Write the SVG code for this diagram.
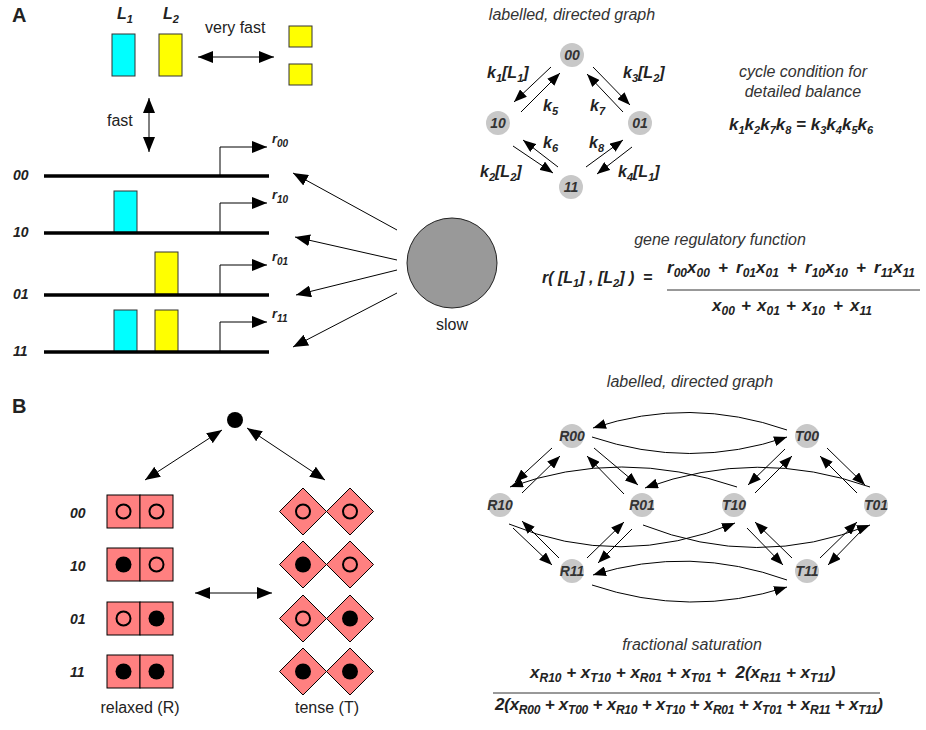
<svg xmlns="http://www.w3.org/2000/svg" width="926" height="730" viewBox="0 0 926 730">
  <defs>
    <style>
      text { font-family: 'Liberation Sans', Arial, Helvetica, sans-serif; }
      .plain { font-size: 16px; fill: #222; }
      .cap { font-size: 16px; font-style: italic; fill: #333; }
      .math { font-size: 16px; font-style: italic; font-weight: bold; fill: #222; }
      .fx { font-size: 17px; }
      .fx .s { font-size: 12px; }
      .row { font-size: 14px; font-style: italic; font-weight: bold; fill: #222; }
      .panel { font-size: 20px; font-weight: bold; fill: #222; }
      .s { font-size: 11px; }
      .node circle { fill: #c8c8c8; }
      .node text { font-size: 14px; font-style: italic; font-weight: bold; fill: #333; text-anchor: middle; }
      .edge { stroke: #000; stroke-width: 1; fill: none; }
      .big { marker-end: url(#hL); }
      .both { marker-start: url(#hL); marker-end: url(#hL); }
      .g { marker-end: url(#hS); }
      .dna { stroke: #000; stroke-width: 3.5; }
      .cyan { fill: #00ffff; stroke: #333; stroke-width: 1; }
      .yel { fill: #ffff00; stroke: #333; stroke-width: 1; }
      .sub-unit { fill: #ff8080; stroke: #000; stroke-width: 1; }
      .open { fill: none; stroke: #000; stroke-width: 2; }
      .full { fill: #000; }
      .bar { stroke: #333; stroke-width: 1; }
    </style>
    <marker id="hL" markerUnits="userSpaceOnUse" markerWidth="16" markerHeight="12" refX="15" refY="6" orient="auto-start-reverse">
      <path d="M0,0 L15,6 L0,12 z" fill="#000"/>
    </marker>
    <marker id="hS" markerUnits="userSpaceOnUse" markerWidth="14" markerHeight="10" refX="13" refY="5" orient="auto">
      <path d="M0,0 L13,5 L0,10 z" fill="#000"/>
    </marker>
  </defs>

  <rect width="926" height="730" fill="#fff"/>

  <!-- Panel A -->
  <text class="panel" x="12" y="22">A</text>

  <g id="ligand-L1">
    <text class="math" x="117" y="19">L<tspan class="s" dy="4">1</tspan></text>
    <rect class="cyan" x="112" y="34" width="23" height="42"/>
  </g>
  <g id="ligand-L2">
    <text class="math" x="163" y="19">L<tspan class="s" dy="4">2</tspan></text>
    <rect class="yel" x="159" y="34" width="23" height="42"/>
  </g>
  <g id="ligand-pair">
    <rect class="yel" x="289" y="26" width="23" height="21"/>
    <rect class="yel" x="289" y="64" width="23" height="21"/>
  </g>
  <text class="plain" x="205" y="33">very fast</text>
  <text class="plain" x="107" y="126">fast</text>

  <g id="gene-00">
    <text class="row" x="13" y="180">00</text>
    <line class="dna" x1="44" y1="176" x2="269" y2="176"/>
  </g>
  <g id="gene-10">
    <text class="row" x="13" y="237">10</text>
    <rect class="cyan" x="114" y="191" width="23" height="42"/>
    <line class="dna" x1="44" y1="233" x2="269" y2="233"/>
  </g>
  <g id="gene-01">
    <text class="row" x="13" y="299">01</text>
    <rect class="yel" x="155" y="252" width="23" height="43"/>
    <line class="dna" x1="44" y1="295" x2="269" y2="295"/>
  </g>
  <g id="gene-11">
    <text class="row" x="13" y="356">11</text>
    <rect class="cyan" x="114" y="310" width="23" height="42"/>
    <rect class="yel" x="155" y="310" width="23" height="42"/>
    <line class="dna" x1="44" y1="352" x2="269" y2="352"/>
  </g>

  <!-- transcription start sites and rates -->
  <g id="rates">
    <text class="math" x="272" y="143" style="font-size:13px">r<tspan class="s" dy="4" style="font-size:10px">00</tspan></text>
    <text class="math" x="272" y="199" style="font-size:13px">r<tspan class="s" dy="4" style="font-size:10px">10</tspan></text>
    <text class="math" x="272" y="261" style="font-size:13px">r<tspan class="s" dy="4" style="font-size:10px">01</tspan></text>
    <text class="math" x="272" y="318" style="font-size:13px">r<tspan class="s" dy="4" style="font-size:10px">11</tspan></text>
  </g>

  <g id="polymerase">
    <circle cx="452" cy="263" r="45" fill="#999" stroke="#222" stroke-width="1"/>
    <text class="plain" x="452" y="330" text-anchor="middle">slow</text>
  </g>

  <!-- state graph for panel A -->
  <text class="cap" x="572" y="20" text-anchor="middle">labelled, directed graph</text>
  <g id="a00" class="node"><circle cx="572" cy="55" r="12"/><text x="572" y="60">00</text></g>
  <g id="a10" class="node"><circle cx="498" cy="123" r="12"/><text x="498" y="128">10</text></g>
  <g id="a01" class="node"><circle cx="640" cy="123" r="12"/><text x="640" y="128">01</text></g>
  <g id="a11" class="node"><circle cx="571" cy="187" r="12"/><text x="571" y="192">11</text></g>

  <g id="rate-labels">
    <text class="math" x="487" y="78">k<tspan class="s" dy="4">1</tspan><tspan dy="-4">[L</tspan><tspan class="s" dy="4">1</tspan><tspan dy="-4">]</tspan></text>
    <text class="math" x="543" y="111">k<tspan class="s" dy="4">5</tspan></text>
    <text class="math" x="623" y="78">k<tspan class="s" dy="4">3</tspan><tspan dy="-4">[L</tspan><tspan class="s" dy="4">2</tspan><tspan dy="-4">]</tspan></text>
    <text class="math" x="590" y="111">k<tspan class="s" dy="4">7</tspan></text>
    <text class="math" x="543" y="148">k<tspan class="s" dy="4">6</tspan></text>
    <text class="math" x="589" y="148">k<tspan class="s" dy="4">8</tspan></text>
    <text class="math" x="480" y="177">k<tspan class="s" dy="4">2</tspan><tspan dy="-4">[L</tspan><tspan class="s" dy="4">2</tspan><tspan dy="-4">]</tspan></text>
    <text class="math" x="618" y="177">k<tspan class="s" dy="4">4</tspan><tspan dy="-4">[L</tspan><tspan class="s" dy="4">1</tspan><tspan dy="-4">]</tspan></text>
  </g>

  <g id="detailed-balance">
    <text class="cap" x="803" y="77" text-anchor="middle">cycle condition for</text>
    <text class="cap" x="803" y="97" text-anchor="middle">detailed balance</text>
    <text class="math" x="729" y="130" style="font-size:17px">k<tspan class="s" dy="4">1</tspan><tspan dy="-4">k</tspan><tspan class="s" dy="4">2</tspan><tspan dy="-4">k</tspan><tspan class="s" dy="4">7</tspan><tspan dy="-4">k</tspan><tspan class="s" dy="4">8</tspan><tspan dy="-4"> = k</tspan><tspan class="s" dy="4">3</tspan><tspan dy="-4">k</tspan><tspan class="s" dy="4">4</tspan><tspan dy="-4">k</tspan><tspan class="s" dy="4">5</tspan><tspan dy="-4">k</tspan><tspan class="s" dy="4">6</tspan></text>
  </g>

  <g id="regulatory-function">
    <text class="cap" x="720" y="245" text-anchor="middle">gene regulatory function</text>
    <text class="math" x="542" y="283" xml:space="preserve">r( [L<tspan class="s" dy="4">1</tspan><tspan dy="-4">] , [L</tspan><tspan class="s" dy="4">2</tspan><tspan dy="-4">] )  =</tspan></text>
    <g class="fx">
      <text class="math fx" x="667" y="273">r<tspan class="s" dy="4">00</tspan><tspan dy="-4">x</tspan><tspan class="s" dy="4">00</tspan></text>
      <text class="math fx" x="723" y="273" text-anchor="middle">+</text>
      <text class="math fx" x="736" y="273">r<tspan class="s" dy="4">01</tspan><tspan dy="-4">x</tspan><tspan class="s" dy="4">01</tspan></text>
      <text class="math fx" x="792" y="273" text-anchor="middle">+</text>
      <text class="math fx" x="805" y="273">r<tspan class="s" dy="4">10</tspan><tspan dy="-4">x</tspan><tspan class="s" dy="4">10</tspan></text>
      <text class="math fx" x="861" y="273" text-anchor="middle">+</text>
      <text class="math fx" x="874" y="273">r<tspan class="s" dy="4">11</tspan><tspan dy="-4">x</tspan><tspan class="s" dy="4">11</tspan></text>
      <line class="bar" x1="667" y1="290" x2="920" y2="290"/>
      <text class="math fx" x="712" y="311">x<tspan class="s" dy="4">00</tspan></text>
      <text class="math fx" x="746" y="311" text-anchor="middle">+</text>
      <text class="math fx" x="757" y="311">x<tspan class="s" dy="4">01</tspan></text>
      <text class="math fx" x="791" y="311" text-anchor="middle">+</text>
      <text class="math fx" x="802" y="311">x<tspan class="s" dy="4">10</tspan></text>
      <text class="math fx" x="838" y="311" text-anchor="middle">+</text>
      <text class="math fx" x="850" y="311">x<tspan class="s" dy="4">11</tspan></text>
    </g>
  </g>

  <!-- Panel B -->
  <text class="panel" x="12" y="413">B</text>
  <g id="ligand-B"><circle cx="235" cy="420" r="8" fill="#000"/></g>

  <g id="R00" transform="translate(0,495)">
    <text class="row" x="70" y="23">00</text>
    <rect class="sub-unit" x="107" y="0" width="33" height="33"/><rect class="sub-unit" x="140" y="0" width="33" height="33"/>
    <circle class="open" cx="123.5" cy="16.5" r="7"/><circle class="open" cx="156.5" cy="16.5" r="7"/>
  </g>
  <g id="R10" transform="translate(0,548)">
    <text class="row" x="70" y="23">10</text>
    <rect class="sub-unit" x="107" y="0" width="33" height="33"/><rect class="sub-unit" x="140" y="0" width="33" height="33"/>
    <circle class="full" cx="123.5" cy="16.5" r="8"/><circle class="open" cx="156.5" cy="16.5" r="7"/>
  </g>
  <g id="R01" transform="translate(0,602)">
    <text class="row" x="70" y="22">01</text>
    <rect class="sub-unit" x="107" y="0" width="33" height="33"/><rect class="sub-unit" x="140" y="0" width="33" height="33"/>
    <circle class="open" cx="123.5" cy="16.5" r="7"/><circle class="full" cx="156.5" cy="16.5" r="8"/>
  </g>
  <g id="R11" transform="translate(0,655)">
    <text class="row" x="70" y="22">11</text>
    <rect class="sub-unit" x="107" y="0" width="33" height="33"/><rect class="sub-unit" x="140" y="0" width="33" height="33"/>
    <circle class="full" cx="123.5" cy="16.5" r="8"/><circle class="full" cx="156.5" cy="16.5" r="8"/>
  </g>
  <text class="plain" x="140" y="713" text-anchor="middle">relaxed (R)</text>

  <g id="T00" transform="translate(0,511.5)">
    <polygon class="sub-unit" points="279.5,0 303,-23.5 326.5,0 303,23.5"/><polygon class="sub-unit" points="326.5,0 350,-23.5 373.5,0 350,23.5"/>
    <circle class="open" cx="303" cy="0" r="7"/><circle class="open" cx="350" cy="0" r="7"/>
  </g>
  <g id="T10" transform="translate(0,564.5)">
    <polygon class="sub-unit" points="279.5,0 303,-23.5 326.5,0 303,23.5"/><polygon class="sub-unit" points="326.5,0 350,-23.5 373.5,0 350,23.5"/>
    <circle class="full" cx="303" cy="0" r="8"/><circle class="open" cx="350" cy="0" r="7"/>
  </g>
  <g id="T01" transform="translate(0,618.5)">
    <polygon class="sub-unit" points="279.5,0 303,-23.5 326.5,0 303,23.5"/><polygon class="sub-unit" points="326.5,0 350,-23.5 373.5,0 350,23.5"/>
    <circle class="open" cx="303" cy="0" r="7"/><circle class="full" cx="350" cy="0" r="8"/>
  </g>
  <g id="T11" transform="translate(0,671.5)">
    <polygon class="sub-unit" points="279.5,0 303,-23.5 326.5,0 303,23.5"/><polygon class="sub-unit" points="326.5,0 350,-23.5 373.5,0 350,23.5"/>
    <circle class="full" cx="303" cy="0" r="8"/><circle class="full" cx="350" cy="0" r="8"/>
  </g>
  <text class="plain" x="327" y="713" text-anchor="middle">tense (T)</text>

  <!-- state graph for panel B -->
  <text class="cap" x="690" y="387" text-anchor="middle">labelled, directed graph</text>
  <g id="nR00" class="node"><circle cx="572" cy="436" r="12"/><text x="572" y="441">R00</text></g>
  <g id="nR10" class="node"><circle cx="500" cy="505" r="12"/><text x="500" y="510">R10</text></g>
  <g id="nR01" class="node"><circle cx="642" cy="505" r="12"/><text x="642" y="510">R01</text></g>
  <g id="nR11" class="node"><circle cx="572" cy="571" r="12"/><text x="572" y="576">R11</text></g>
  <g id="nT00" class="node"><circle cx="807" cy="436" r="12"/><text x="807" y="441">T00</text></g>
  <g id="nT10" class="node"><circle cx="734" cy="505" r="12"/><text x="734" y="510">T10</text></g>
  <g id="nT01" class="node"><circle cx="876" cy="505" r="12"/><text x="876" y="510">T01</text></g>
  <g id="nT11" class="node"><circle cx="807" cy="571" r="12"/><text x="807" y="576">T11</text></g>

  <g id="saturation" class="fx">
    <text class="cap" x="692" y="650" text-anchor="middle">fractional saturation</text>
    <text class="math fx" x="530" y="678" xml:space="preserve">x<tspan class="s" dy="4">R10</tspan><tspan dy="-4"> + x</tspan><tspan class="s" dy="4">T10</tspan><tspan dy="-4"> + x</tspan><tspan class="s" dy="4">R01</tspan><tspan dy="-4"> + x</tspan><tspan class="s" dy="4">T01</tspan><tspan dy="-4"> +  2(x</tspan><tspan class="s" dy="4">R11</tspan><tspan dy="-4"> + x</tspan><tspan class="s" dy="4">T11</tspan><tspan dy="-4">)</tspan></text>
    <line class="bar" x1="493" y1="693" x2="880" y2="693"/>
    <text class="math fx" x="495" y="710" textLength="388" lengthAdjust="spacing">2(x<tspan class="s" dy="4">R00</tspan><tspan dy="-4"> + x</tspan><tspan class="s" dy="4">T00</tspan><tspan dy="-4"> + x</tspan><tspan class="s" dy="4">R10</tspan><tspan dy="-4"> + x</tspan><tspan class="s" dy="4">T10</tspan><tspan dy="-4"> + x</tspan><tspan class="s" dy="4">R01</tspan><tspan dy="-4"> + x</tspan><tspan class="s" dy="4">T01</tspan><tspan dy="-4"> + x</tspan><tspan class="s" dy="4">R11</tspan><tspan dy="-4"> + x</tspan><tspan class="s" dy="4">T11</tspan><tspan dy="-4">)</tspan></text>
  </g>

  <!-- connectors -->
  <g id="connectors">
    <!-- ligand exchange -->
    <line class="edge both" x1="198" y1="57" x2="274" y2="57"/>
    <line class="edge both" x1="149" y1="98" x2="149" y2="152"/>
    <!-- promoters -->
    <polyline class="edge big" points="220,176 220,147 267,147"/>
    <polyline class="edge big" points="220,233 220,203 267,203"/>
    <polyline class="edge big" points="220,295 220,265 267,265"/>
    <polyline class="edge big" points="220,352 220,322 267,322"/>
    <!-- polymerase binding -->
    <line class="edge big" x1="397" y1="230" x2="293" y2="173"/>
    <line class="edge big" x1="397" y1="260" x2="295" y2="237"/>
    <line class="edge big" x1="397" y1="270" x2="296" y2="295"/>
    <line class="edge big" x1="397" y1="293" x2="293" y2="347"/>

    <!-- panel A graph -->
    <line class="edge g" x1="551" y1="67" x2="514" y2="102"/>
    <line class="edge g" x1="521" y1="112" x2="560" y2="73"/>
    <line class="edge g" x1="593" y1="67" x2="630" y2="105"/>
    <line class="edge g" x1="623" y1="112" x2="587" y2="74"/>
    <line class="edge g" x1="513" y1="146" x2="553" y2="173"/>
    <line class="edge g" x1="558" y1="167" x2="523" y2="140"/>
    <line class="edge g" x1="586" y1="167" x2="623" y2="140"/>
    <line class="edge g" x1="632" y1="147" x2="597" y2="174"/>

    <!-- panel B ligand binding and R/T switching -->
    <line class="edge both" x1="222" y1="430" x2="145" y2="480"/>
    <line class="edge both" x1="247" y1="428" x2="325" y2="480"/>
    <line class="edge both" x1="195" y1="593" x2="272" y2="593"/>

    <!-- R states -->
    <line class="edge g" x1="552" y1="448" x2="515" y2="482"/>
    <line class="edge g" x1="522" y1="493" x2="560" y2="456"/>
    <line class="edge g" x1="594" y1="448" x2="638" y2="485"/>
    <line class="edge g" x1="624" y1="494" x2="587" y2="456"/>
    <line class="edge g" x1="513" y1="528" x2="552" y2="565"/>
    <line class="edge g" x1="559" y1="558" x2="522" y2="521"/>
    <line class="edge g" x1="587" y1="558" x2="624" y2="522"/>
    <line class="edge g" x1="632" y1="529" x2="598" y2="563"/>
    <!-- T states -->
    <line class="edge g" x1="785" y1="449" x2="748" y2="485"/>
    <line class="edge g" x1="755" y1="493" x2="792" y2="456"/>
    <line class="edge g" x1="827" y1="448" x2="865" y2="485"/>
    <line class="edge g" x1="857" y1="493" x2="820" y2="456"/>
    <line class="edge g" x1="747" y1="528" x2="783" y2="565"/>
    <line class="edge g" x1="792" y1="558" x2="755" y2="522"/>
    <line class="edge g" x1="820" y1="558" x2="857" y2="522"/>
    <line class="edge g" x1="862" y1="530" x2="828" y2="565"/>
    <!-- R <-> T -->
    <path class="edge g" d="M787,430 Q690,396 593,428"/>
    <path class="edge g" d="M592,437 Q690,470 787,437"/>
    <path class="edge g" d="M737,487 Q620,447 510,487"/>
    <path class="edge g" d="M870,487 Q757,447 645,488"/>
    <path class="edge g" d="M509,524 Q620,570 735,523"/>
    <path class="edge g" d="M643,525 Q757,570 870,525"/>
    <path class="edge g" d="M787,580 Q690,545 593,575"/>
    <path class="edge g" d="M592,585 Q690,618 787,587"/>
  </g>
</svg>
